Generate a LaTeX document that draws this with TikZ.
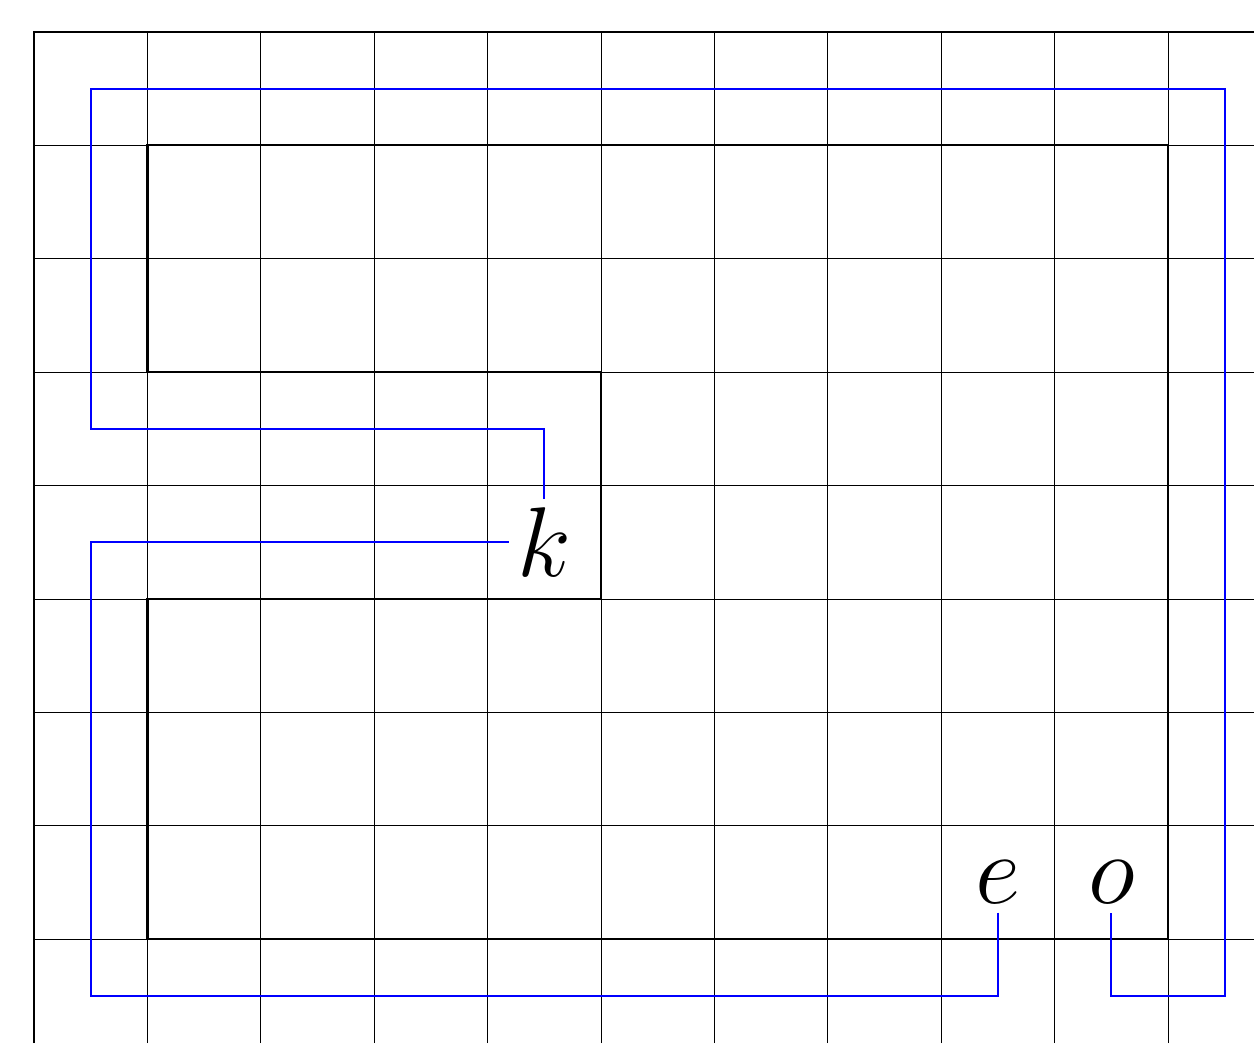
\documentclass[tikz,border=0pt]{standalone}
\usepackage{tikz}
\usetikzlibrary{positioning,calc}

\begin{document}
\begin{tikzpicture}[
  x=1cm, y=1cm,
  gridline/.style={line width=0.25pt, black},
  edgeline/.style={line width=0.55pt, black},
  region/.style={line width=0.55pt, black},
  wire/.style={line width=0.45pt, blue},
  letter/.style={inner sep=2pt, font=\Huge}
]
\useasboundingbox (-0.3,0.282) rectangle (10.758,-8.916);
\draw[gridline] (0,0) grid (10.758,-8.916);
\draw[edgeline] (0,-8.916) |- (10.758,0);

\draw[region] (1,-1) -- (10,-1) -- (10,-8) -- (1,-8) -- (1,-5)
  -- (5,-5) -- (5,-3) -- (1,-3) -- cycle;

\node[letter] (k) at (4.5,-4.5) {$k$};
\node[letter] (e) at (8.5,-7.5) {$e$};
\node[letter] (o) at (9.5,-7.5) {$o$};

\coordinate (topleft) at (0.5,-0.5);
\coordinate (midleft) at (0.5,-3.5);
\coordinate (botright) at (10.5,-8.5);
\coordinate (botleft) at (0.5,-8.5);

\draw[wire] (k.north) |- (midleft) -- (topleft) -| (botright) -| (o.south);
\draw[wire] (e.south) |- (botleft) |- (k.west);
\end{tikzpicture}
\end{document}
